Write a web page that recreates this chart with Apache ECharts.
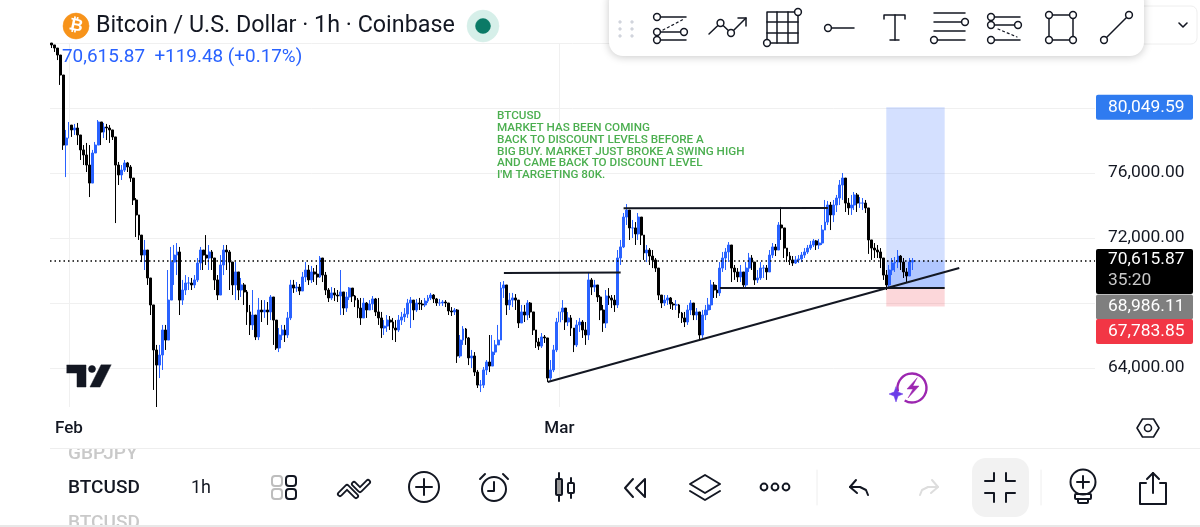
<!DOCTYPE html>
<html>
<head>
<meta charset="utf-8">
<title>BTCUSD</title>
<script src="https://cdn.jsdelivr.net/npm/echarts@6/dist/echarts.min.js"></script>
<style>
  html, body { margin: 0; padding: 0; background: #fff; }
  #chart { width: 1200px; height: 527px; }
</style>
</head>
<body>
<div id="chart"></div>
<script>
// 4h candles, open is the previous close
var firstOpen = 84000;
var closes = [83880,83690,83260,82030,77720,78150,78950,78650,78770,78340,
77420,77110,76490,75380,77230,77720,79140,78520,78830,78770,
78650,78220,76490,75880,76180,76620,76370,75690,74340,73420,
72180,70950,71260,69540,67880,65110,64180,64800,66340,65720,
68180,70520,70950,71140,68180,68800,69230,69230,69110,69420,
70460,71260,70950,70770,71140,70770,69420,68490,70340,71260,
71140,70520,69110,69910,68800,69110,68680,67450,66650,67260,
65910,67570,67450,67570,67450,68370,66950,65230,66030,66340,
66030,67080,69110,68920,68980,68740,69600,70030,69420,69910,
69780,69600,70770,69720,68800,68310,68620,68490,68430,68680,
67690,68370,68920,68430,68180,67690,67080,68000,67570,67940,
68250,67450,67080,66460,66580,66950,66830,66460,66340,66950,
67140,67320,68000,68180,67570,68000,67940,67880,68120,68310,
68490,68250,68000,68000,68060,68000,67510,67450,67570,64740,
65720,66400,65850,64620,64740,63750,62950,62950,63880,64370,
64120,64980,65420,65720,68920,69110,67880,68180,68310,68180,
66770,67450,67260,68000,67450,66340,65600,65350,65910,65850,
63380,63880,65110,66830,67450,67690,66830,67080,66460,65420,
66650,66830,66340,66030,69420,68980,69110,68370,67570,66770,
68430,68310,68180,67880,70770,71450,73290,73720,72620,72620,
72250,73290,72180,71080,71260,70890,70650,70150,68490,68000,
68180,68310,67940,67880,67880,67380,67080,66830,67570,68000,
67260,67450,66030,67260,67570,67880,69110,68800,68620,70150,
70770,71140,71570,70150,69910,69600,69910,69110,70150,70770,
70520,69420,69540,70150,70150,69910,70950,71450,71260,72800,
72620,71380,70890,70650,70460,70650,70710,70950,71140,71380,
71570,71820,71570,71690,72490,72980,74030,73420,74030,74460,
75260,75690,74150,73850,74030,74650,74150,74150,74150,73850,
71880,71380,71260,71140,70770,69720,69110,70030,70460,70520,
70890,70520,69910,69660,70520,70615.87];
var highs = [83940,83880,83690,83260,81420,78650,79140,78950,79020,79080,
78340,77720,77850,77720,77420,77910,79260,79140,79080,79020,
78950,78520,78220,76680,76490,76800,76680,76490,75690,74460,
73420,72180,71880,71260,69540,67880,65420,65420,66650,66650,
70030,71450,71570,71690,71450,69420,69720,69600,69540,69720,
70770,71450,71260,72180,71570,71260,70770,69720,70950,71570,
71570,71260,70520,70520,69910,69540,69230,68800,67880,68800,
67260,68310,68180,68180,68060,68490,68370,66950,66460,66650,
66650,67450,69420,69420,69290,69170,69910,70520,70340,70280,
70150,70340,70890,70770,69910,68920,68980,68920,68800,70030,
68680,68680,68980,68920,68490,68310,68310,68310,68060,68180,
68430,68310,68310,67450,66950,67260,67200,67080,66950,67260,
67450,67690,68250,68370,68180,68250,68310,68180,68310,68490,
68620,68550,68310,68250,68180,68180,68000,67750,67690,67630,
66030,66580,66460,65910,65110,64980,63880,63260,64060,64490,
66030,66030,65720,66650,69290,69350,69110,68620,68620,68550,
68180,67880,67880,68180,68060,67450,66340,65850,66150,66030,
65850,64490,65420,67080,68180,68180,67690,67450,67260,66460,
66950,67080,66950,66830,69910,69540,69420,69110,68490,67880,
68800,68920,68490,68490,71260,71880,73540,74090,73720,73110,
72980,73540,73290,72180,71570,71380,71260,70770,70150,68490,
68490,68490,68370,68060,68180,67940,67450,67450,67880,68180,
68000,67690,67450,67570,67880,68310,69420,69290,69110,70520,
71140,71380,71750,71570,70340,70150,70340,69910,70520,71080,
70950,70520,70030,70520,70340,70340,71260,71690,71630,72980,
73910,72620,71380,71140,70890,70890,70950,71140,71380,71570,
71820,71940,71880,71940,72800,74340,74280,74220,74340,74650,
75570,76000,75690,74460,74650,74830,74770,74520,74460,74340,
73850,71880,71690,71570,71380,70770,70030,70340,70770,70830,
71260,70950,70770,70150,70770,70770];
var lows = [83690,83450,82950,81420,77420,75750,78340,78220,78340,77720,
76800,76490,76060,74520,76490,77420,77720,77720,78150,78030,
77850,78030,72920,75260,75570,76060,76060,75450,74030,72060,
71880,70520,70030,69110,67260,62650,61600,63380,63880,65110,
65720,68180,69110,69720,67260,67880,68490,68800,68800,68920,
69290,70030,70030,70340,70030,70030,68800,68180,68490,69720,
70030,68800,68490,68180,68180,68370,67880,66650,66030,66340,
65720,65720,66830,67080,66650,66950,65420,65110,64980,65720,
65600,65850,66950,68620,68680,68490,68800,69290,69110,69230,
69290,69110,69540,69290,68490,68060,68180,68120,68060,67260,
67260,67450,68180,68060,67750,67080,66650,67080,67080,67570,
67570,67200,66650,65850,66030,66220,66340,65720,65600,66220,
66650,66830,67080,66460,66950,67450,67570,67570,67750,68000,
68180,68000,67820,67820,67820,67750,67260,67200,67260,64310,
64620,65420,65420,64180,64000,63510,62770,62520,62770,63570,
63750,64620,64800,65420,65720,68310,67260,67570,67750,67570,
66460,66950,66830,66950,67080,66030,65230,65110,65230,65540,
63140,63260,63750,64980,66460,66950,66340,66580,65970,64980,
65290,66220,65850,65420,65720,68490,68680,68060,66950,66220,
66460,67880,67690,67450,67690,70340,71380,72800,71880,72000,
71570,71880,71570,70650,70520,70340,70150,69910,68180,67690,
67820,67880,67630,67570,67570,67080,66770,66520,66650,67260,
66950,66950,65660,65850,66950,67260,67570,68310,68310,68430,
69910,70030,70520,69290,69420,69290,69290,68920,68920,69910,
70030,69110,69230,69420,69540,69420,69910,70770,70890,71260,
71880,70770,70520,70340,70280,70400,70460,70520,70770,71020,
71260,71450,71260,71320,71570,72490,72800,72490,72980,73600,
74030,74340,73600,73420,73420,73720,73600,73850,73720,73540,
71020,70650,70770,70770,70150,69420,68800,68980,69720,69910,
70150,70030,69540,69290,69660,70030];

var axisPrices = [64000, 72000, 76000];
var monthTicks = [6, 174];
var monthLabels = ['Feb', 'Mar'];
var targetPrice = 80049.59;
var entryPrice = 68986.11;
var stopPrice = 67783.85;
var lastPrice = 70615.87;
var countdown = '35:20';
var noteLines = ['BTCUSD', 'MARKET HAS BEEN COMING', 'BACK TO DISCOUNT LEVELS BEFORE A',
  'BIG BUY. MARKET JUST BROKE A SWING HIGH', 'AND CAME BACK TO DISCOUNT LEVEL', "I'M TARGETING 80K."];

// future slots are left empty like the right side of the chart
var categories = [];
var base = +new Date(Date.UTC(2026, 0, 31));
for (var i = 0; i < 358; i++) {
  categories.push(new Date(base + i * 4 * 3600 * 1000).toISOString().slice(0, 16));
}

var candles = closes.map(function (c, i) {
  return [i ? closes[i - 1] : firstOpen, c, lows[i], highs[i]];
});

var ink = '#131722';
var blue = '#2962ff';
var font = 'Roboto, sans-serif';

function money(v) {
  return v.toLocaleString('en-US', { minimumFractionDigits: 2, maximumFractionDigits: 2 });
}

function segment(a, b, c, d, width) {
  return [
    { xAxis: categories[a], yAxis: b, lineStyle: { color: ink, width: width || 2, type: 'solid' } },
    { xAxis: categories[c], yAxis: d }
  ];
}

function tag(price, bg, shift) {
  return {
    yAxis: price,
    lineStyle: { color: 'rgba(0,0,0,0)', width: 1 },
    label: {
      show: true, position: 'end', distance: 1, offset: [0, shift],
      formatter: money(price),
      color: '#fff', backgroundColor: bg, fontFamily: font, fontSize: 17.4,
      width: 85, height: 25, lineHeight: 25, padding: [0, 0, 0, 12], borderRadius: 2
    }
  };
}

// small drawing helpers for the app chrome around the chart
var chrome = [];
function st(o) {
  o = o || {};
  return { stroke: o.c || ink, lineWidth: o.w || 2, fill: o.f || 'none', lineJoin: 'round', lineCap: 'round', lineDash: o.d };
}
function L(pts, o) { chrome.push({ type: 'polyline', z: 100, silent: true, shape: { points: pts }, style: st(o) }); }
function P(pts, o) { chrome.push({ type: 'polygon', z: 100, silent: true, shape: { points: pts }, style: st(o) }); }
function C(x, y, r, o) { chrome.push({ type: 'circle', z: 100, silent: true, shape: { cx: x, cy: y, r: r }, style: st(o) }); }
function R(x, y, w, h, r, o) { chrome.push({ type: 'rect', z: 100, silent: true, shape: { x: x, y: y, width: w, height: h, r: r }, style: st(o) }); }
function box(x, y, w, h, r, fill, extra, z) {
  var s = { fill: fill };
  for (var k in extra) s[k] = extra[k];
  chrome.push({ type: 'rect', z: z || 100, silent: true, shape: { x: x, y: y, width: w, height: h, r: r }, style: s });
}
function T(text, x, y, size, color, weight, align) {
  chrome.push({ type: 'text', z: 101, silent: true, style: {
    text: text, x: x, y: y, fill: color, textAlign: align || 'left', textVerticalAlign: 'middle',
    font: (weight || 400) + ' ' + size + 'px ' + font
  } });
}
function nodes(list) { list.forEach(function (n) { C(n[0], n[1], 3.4, { f: '#fff', w: 1.5 }); }); }

// header
C(76, 26, 13, { c: '#f7931a', f: '#f7931a', w: 0.5 });
chrome.push({ type: 'text', z: 101, silent: true, rotation: -0.2, originX: 76, originY: 26, style: {
  text: '\u20bf', x: 76, y: 26, fill: '#fff', textAlign: 'center', textVerticalAlign: 'middle',
  font: '700 17px "DejaVu Sans", sans-serif'
} });
T('Bitcoin / U.S. Dollar \u00b7 1h \u00b7 Coinbase', 96, 26, 23.3, ink);
C(483, 26, 16, { c: '#d6efe9', f: '#d6efe9', w: 0.5 });
C(483, 26, 7.5, { c: '#0b7a66', f: '#0b7a66', w: 0.5 });
T(money(lastPrice) + '  +119.48 (+0.17%)', 62, 57, 18.9, blue);

// green note
noteLines.forEach(function (line, i) {
  T(line, 497, 116.5 + i * 11.7, 11.7, '#4caf50', 500);
});

// tradingview mark
P([[67, 365], [86, 365], [86, 387], [77, 387], [77, 373], [67, 373]], { f: '#131722', c: '#131722', w: 0.5 });
C(92, 369, 3.5, { f: '#131722', c: '#131722', w: 0.5 });
P([[111, 365], [100, 387], [90, 387], [101, 365]], { f: '#131722', c: '#131722', w: 0.5 });

// purple badge
chrome.push({ type: 'arc', z: 100, silent: true, shape: { cx: 912, cy: 388, r: 14.5, startAngle: 2.9, endAngle: 2.1, clockwise: true },
  style: { stroke: '#9c27b0', lineWidth: 2.4, fill: 'none' } });
P([[917, 378], [907, 389], [913, 389], [908, 398], [919, 386], [913, 386]], { f: '#9c27b0', c: '#9c27b0', w: 0.5 });
P([[896, 387], [898, 392], [903, 394], [898, 396], [896, 402], [894, 396], [889, 394], [894, 392]], { f: '#6a3de8', c: '#6a3de8', w: 0.5 });

// drawing toolbar
box(1130, 6, 67, 38, 6, '#fff', { stroke: '#eeeeee', lineWidth: 1 });
L([[1179, 23], [1183, 27], [1187, 23]], { w: 1.6 });
box(609, -12, 535, 68, 14, '#fff', { shadowBlur: 8, shadowColor: 'rgba(0,0,0,0.22)', shadowOffsetY: 1 });
[[620, 22], [632, 22], [620, 29], [632, 29], [620, 36], [632, 36]].forEach(function (p) {
  C(p[0], p[1], 1.4, { c: '#d1d4dc', f: '#d1d4dc', w: 0.5 });
});
L([[657, 17], [686, 17]], { w: 1.5 }); L([[657, 32], [684, 32]], { w: 1.5 }); L([[657, 40], [686, 40]], { w: 1.5 });
L([[663, 30], [684, 19]], { w: 1.2, d: [2, 3] });
nodes([[657, 17], [657, 32], [684, 32], [657, 40]]);
L([[709, 34], [720.5, 23], [731, 33], [746, 18]], { w: 1.5 }); L([[738, 18], [746, 18], [746, 26]], { w: 1.5 });
nodes([[720.5, 23], [731, 33]]);
R(767, 12, 31, 31, 0, { w: 1.5 });
L([[777, 12], [777, 43]], { w: 1.5 }); L([[788, 12], [788, 43]], { w: 1.5 });
L([[767, 22], [798, 22]], { w: 1.5 }); L([[767, 33], [798, 33]], { w: 1.5 });
nodes([[798, 12], [767, 43]]);
L([[828, 28], [854, 28]], { w: 1.5 }); nodes([[828, 28]]);
L([[884, 19], [884, 15], [905, 15], [905, 19]], { w: 1.5 }); L([[895, 15], [895, 40]], { w: 1.5 }); L([[890, 40], [899, 40]], { w: 1.5 });
L([[934, 13], [965, 13]], { w: 1.5 }); L([[934, 22], [965, 22]], { w: 1.5 }); L([[934, 31], [965, 31]], { w: 1.5 }); L([[934, 40], [965, 40]], { w: 1.5 });
nodes([[965, 22], [934, 40]]);
L([[991, 17], [1020, 17]], { w: 1.5 }); L([[991, 25], [1018, 25]], { w: 1.5 }); L([[991, 40], [1020, 40]], { w: 1.5 });
L([[998, 29], [1017, 37]], { w: 1.2, d: [2, 3] });
nodes([[991, 17], [991, 25], [1018, 25], [991, 40]]);
R(1049, 15, 24, 25, 0, { w: 1.5 }); nodes([[1049, 15], [1073, 15], [1049, 40], [1073, 40]]);
L([[1104, 40], [1129, 15]], { w: 1.5 }); nodes([[1104, 40], [1129, 15]]);

// hexagon settings
P([[1137, 428], [1142.5, 419], [1153.5, 419], [1159, 428], [1153.5, 437], [1142.5, 437]], { w: 1.6 });
C(1148, 428, 3.5, { w: 1.6 });

// bottom bar, the symbol wheel is cut off by white strips
T('GBPJPY', 68, 454, 19, '#c9c9c9', 500);
T('BTCUSD', 68, 488, 19, ink, 500);
T('BTCUSD', 68, 523, 19, '#c9c9c9', 500);
T('1h', 191, 488, 18, ink, 400);
chrome.push({ type: 'rect', z: 102, silent: true, shape: { x: 60, y: 438, width: 100, height: 10 }, style: { fill: '#fff' } });
chrome.push({ type: 'rect', z: 102, silent: true, shape: { x: 50, y: 448, width: 1150, height: 1 }, style: { fill: '#eeeeee' } });
chrome.push({ type: 'rect', z: 102, silent: true, shape: { x: 0, y: 525, width: 1200, height: 2 }, style: { fill: '#e8e8e8' } });
R(272, 476, 10, 10, 3, { c: '#bdbdbd' }); R(272, 489, 10, 10, 3, { c: '#bdbdbd' });
R(286, 476, 10, 10, 3); R(286, 489, 10, 10, 3);
L([[340, 494], [347, 487], [356, 496]], { w: 6 }); L([[340, 494], [347, 487], [356, 496]], { w: 2.4, c: '#fff' });
L([[354, 484], [360, 490], [368, 482]], { w: 6 }); L([[354, 484], [360, 490], [368, 482]], { w: 2.4, c: '#fff' });
C(424, 487, 15); L([[416, 487], [432, 487]]); L([[424, 479], [424, 495]]);
C(494, 489, 12); L([[494, 482], [494, 491], [488, 491]]); L([[480, 479], [485, 474]]); L([[508, 479], [503, 474]]);
L([[559, 473], [559, 501]]); R(556, 479, 6, 16, 1, { f: '#999' });
L([[571, 478], [571, 498]]); R(568, 483, 6, 10, 1, { f: '#fff' });
L([[633, 479], [625, 488], [633, 497]]); P([[645, 479], [636, 488], [645, 497]]);
P([[690, 484], [705, 475], [720, 484], [705, 493]]); L([[690, 491], [705, 500], [720, 491]]);
C(764, 487, 3.4); C(775, 487, 3.4); C(786, 487, 3.4);
L([[817, 470], [817, 505]], { c: '#eeeeee', w: 1 });
L([[856, 480], [850, 487], [857, 493]]); L([[850, 487], [860, 487], [866, 490], [868, 495]]);
L([[932, 480], [938, 487], [931, 493]], { c: '#dddddd' }); L([[938, 487], [928, 487], [922, 490], [920, 495]], { c: '#dddddd' });
box(972, 458, 57, 59, 14, '#f2f2f2');
L([[985, 481], [994, 481], [994, 473]]); L([[1006, 473], [1006, 481], [1015, 481]]);
L([[985, 493], [994, 493], [994, 502]]); L([[1015, 493], [1006, 493], [1006, 502]]);
L([[1041, 470], [1041, 505]], { c: '#eeeeee', w: 1 });
C(1083, 482, 12.5); L([[1077, 482], [1089, 482]]); L([[1083, 476], [1083, 488]]);
R(1075, 494, 16, 5, 1); R(1078, 499, 10, 4, 1);
L([[1146, 483], [1140, 483], [1140, 504], [1166, 504], [1166, 483], [1160, 483]]);
L([[1153, 473], [1153, 493]]); L([[1147, 479], [1153, 473], [1159, 479]]);

var myChart = echarts.init(document.getElementById('chart'), null, { renderer: 'canvas' });

var option = {
  animation: false,
  backgroundColor: '#fff',
  grid: { left: 50, right: 105, top: 43, bottom: 94 },
  xAxis: {
    type: 'category',
    data: categories,
    axisLine: { show: false },
    axisTick: { show: false },
    splitLine: { show: false },
    axisLabel: {
      inside: true,
      margin: -4,
      color: ink,
      fontFamily: font,
      fontSize: 17,
      fontWeight: 500,
      interval: function (index) { return monthTicks.indexOf(index) >= 0; },
      formatter: function (value, index) { return monthLabels[monthTicks.indexOf(index)]; }
    }
  },
  yAxis: {
    type: 'value',
    position: 'right',
    min: 60000,
    max: 84000,
    interval: 4000,
    axisLine: { show: false },
    axisTick: { show: false },
    splitLine: { showMinLine: false, lineStyle: { color: '#f0f0f0', width: 1 } },
    axisLabel: {
      margin: 13,
      color: ink,
      fontFamily: font,
      fontSize: 17.4,
      formatter: function (v) { return axisPrices.indexOf(v) >= 0 ? money(v) : ''; }
    }
  },
  series: [{
    type: 'candlestick',
    data: candles,
    barWidth: 2.4,
    itemStyle: { color: blue, color0: '#000', borderColor: blue, borderColor0: '#000', borderWidth: 1 },
    markArea: {
      silent: true,
      data: [
        [{ xAxis: categories[286], yAxis: targetPrice, itemStyle: { color: 'rgba(41,98,255,0.2)' } }, { xAxis: categories[306], yAxis: entryPrice }],
        [{ xAxis: categories[286], yAxis: lastPrice, itemStyle: { color: 'rgba(41,98,255,0.2)' } }, { xAxis: categories[306], yAxis: entryPrice }],
        [{ xAxis: categories[286], yAxis: entryPrice, itemStyle: { color: 'rgba(242,54,69,0.2)' } }, { xAxis: categories[306], yAxis: stopPrice }]
      ]
    },
    markLine: {
      silent: true,
      symbol: ['none', 'none'],
      label: { show: false },
      data: [
        // vertical month gridlines
        [{ xAxis: categories[6], yAxis: 84000, lineStyle: { color: '#f0f0f0', width: 1, type: 'solid' } }, { xAxis: categories[6], yAxis: 61600 }],
        [{ xAxis: categories[174], yAxis: 84000, lineStyle: { color: '#f0f0f0', width: 1, type: 'solid' } }, { xAxis: categories[174], yAxis: 61600 }],
        // hand drawn levels and the rising trendline
        segment(155, 69850, 195, 69880),
        segment(196, 73830, 266, 73840),
        segment(229, 68950, 306, 68940),
        segment(170, 63140, 311, 70150),
        // last price dotted line with its tag
        {
          yAxis: lastPrice,
          lineStyle: { color: '#000', width: 1.5, type: [1.5, 3] },
          label: {
            show: true, position: 'end', distance: 1, offset: [0, 11],
            formatter: '{a|' + money(lastPrice) + '}\n{b|' + countdown + '}',
            backgroundColor: '#000', borderRadius: 2, width: 85, height: 45, padding: [0, 0, 0, 12],
            rich: {
              a: { color: '#fff', fontFamily: font, fontSize: 17.4, lineHeight: 22 },
              b: { color: '#c8c8c8', fontFamily: font, fontSize: 17.4, lineHeight: 20 }
            }
          }
        },
        tag(targetPrice, '#2f7bf0', 0),
        tag(entryPrice, '#7f7f7f', 20),
        tag(stopPrice, '#f23645', 25)
      ]
    }
  }],
  graphic: { elements: chrome }
};

myChart.setOption(option);
</script>
</body>
</html>
